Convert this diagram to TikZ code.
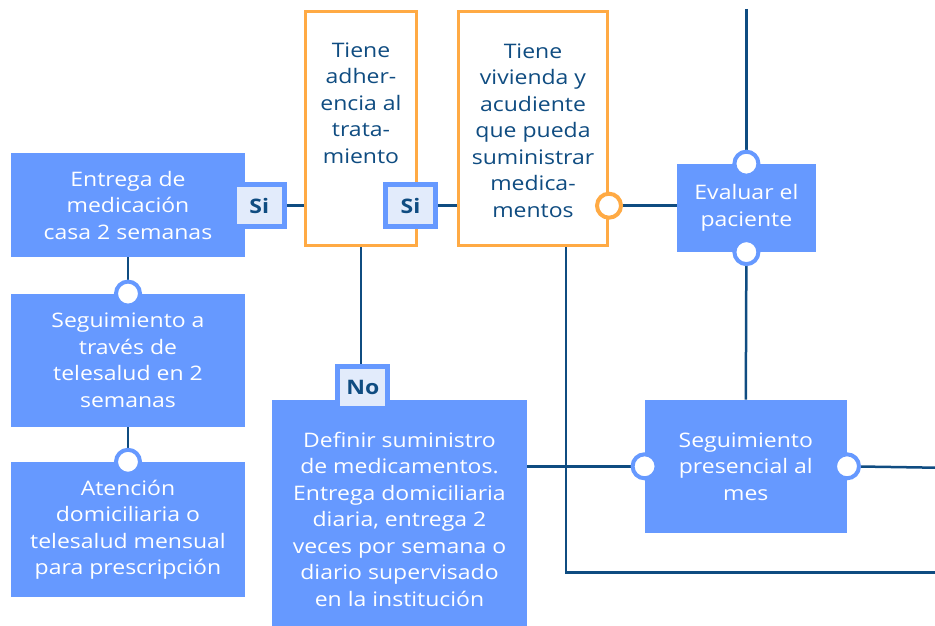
\documentclass[tikz,border=0pt]{standalone}
\usepackage{fontspec}
\setmainfont{Open Sans}[FakeStretch=1.15]
\usetikzlibrary{positioning,backgrounds}
\definecolor{boxblue}{HTML}{6699FF}
\definecolor{inkdark}{HTML}{0F4C81}
\definecolor{askorange}{HTML}{FFAA44}
\definecolor{tagfill}{HTML}{E2EBFB}
\newcommand{\boxfont}{\fontsize{20}{26.5}\selectfont}
\tikzset{actbox/.style={rectangle,fill=boxblue,text=white,align=center,inner sep=0pt,font=\boxfont},
  askbox/.style={rectangle,draw=askorange,line width=3pt,fill=white,inner sep=0pt},
  asktext/.style={text=inkdark,align=center,inner sep=0pt,font=\boxfont},
  tag/.style={rectangle,draw=boxblue,fill=tagfill,line width=5pt,minimum width=50pt,minimum height=42pt,
    inner sep=0pt,text=inkdark,font=\boxfont\bfseries},
  port/.style={circle,draw=boxblue,fill=white,line width=4pt,minimum size=24pt,inner sep=0pt},
  oport/.style={port,draw=askorange},
  wire/.style={draw=inkdark,line width=2.5pt}}

\begin{document}
\begin{tikzpicture}[x=1pt,y=-1pt]
\clip (0,0) rectangle (935,626);
% left column
\node[actbox,minimum width=234pt,minimum height=104pt] (give) at (128,205) {Entrega de\\medicación\\casa 2 semanas};
\node[actbox,minimum width=234pt,minimum height=133pt] (tele) at (128,360.3) {Seguimiento a\\través de\\telesalud en 2\\semanas};
\node[actbox,minimum width=234pt,minimum height=135pt] (home) at (128,529.5) {Atención\\domiciliaria o\\telesalud mensual\\para prescripción};
\node[port] (pTele) at (tele.north) {};
\node[port] (pHome) at (home.north) {};
% questions
\node[askbox,minimum width=111pt,minimum height=234pt] (adh) at (361,128.5) {};
\node[asktext] (adhtext) at (361,103) {Tiene\\adher-\\encia al\\trata-\\miento};
\node[askbox,minimum width=149pt,minimum height=234pt] (care) at (533,128.5) {};
\node[asktext] (caretext) at (533,130.5) {Tiene\\vivienda y\\acudiente\\que pueda\\suministrar\\medica-\\mentos};
\node[tag] (si1) at (259.2,205.7) {Si};
\node[tag] (si2) at (410.5,205.7) {Si};
\node[oport] (pCare) at (care.east |- si2) {};
% right part
\node[actbox,minimum width=255pt,minimum height=238pt] (plan) at (399.5,519) {Definir suministro\\de medicamentos.\\Entrega domiciliaria\\diaria, entrega 2\\veces por semana o\\diario supervisado\\en la institución};
\node[tag] (no) at (362.8,387) {No};
\node[actbox,minimum width=139pt,minimum height=88pt] (eval) at (746.4,207.9) {Evaluar el\\paciente};
\node[actbox,minimum width=202pt,minimum height=133pt] (visit) at (745.8,466.3) {Seguimiento\\presencial al\\mes};
\node[port] (pEvalN) at (eval.north) {};
\node[port] (pEvalS) at (eval.south) {};
\node[port] (pVisitW) at (visit.west) {};
\node[port] (pVisitE) at (visit.east) {};
\coordinate (topend) at (746.4,9);
\coordinate (rightend) at (935,467.7);
\coordinate (lowend) at (935,572.7);
\begin{scope}[on background layer]
\draw[wire] (give.south) -- (pTele);
\draw[wire] (tele.south) -- (pHome);
\draw[wire] (si1.east) -- (si1.east -| adh.west);
\draw[wire] (si2.east) -- (si2.east -| care.west);
\draw[wire] (adh.south) -- (adh.south |- no.north);
\draw[wire] (pCare) -- (pCare -| eval.west);
\draw[wire] (topend) -- (pEvalN);
\draw[wire] (pEvalS) -- (visit.north);
\draw[wire] (pVisitW) -- (pVisitW -| plan.east);
\draw[wire] (pVisitE) -- (rightend);
\draw[wire] ([xshift=33pt]care.south) |- (lowend);
\end{scope}
\end{tikzpicture}
\end{document}
